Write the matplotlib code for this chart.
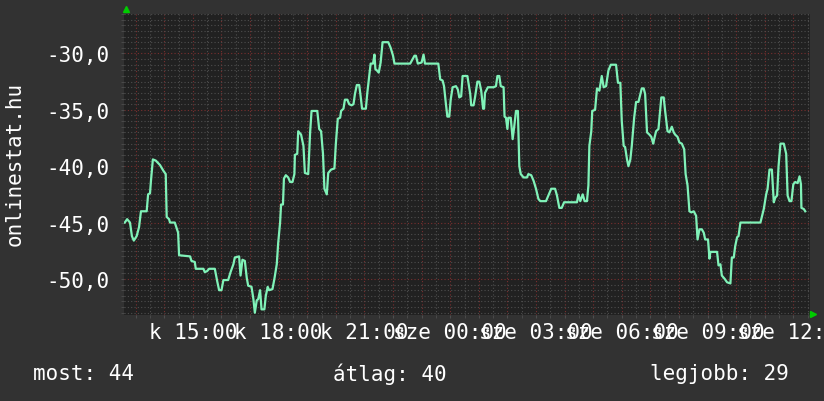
import matplotlib
matplotlib.use("Agg")
import matplotlib.pyplot as plt
from matplotlib.ticker import MultipleLocator, FuncFormatter

# ---- data (minutes after 12:00 on day 1, value) ----
minutes = [37, 42, 48, 52, 56, 62, 67, 71, 83, 86, 90, 92, 96, 102, 111, 118, 123, 125, 130, 132,
           142, 149, 151, 174, 177, 184, 186, 202, 205, 210, 214, 226, 231, 235, 240, 244, 254, 259,
           265, 268, 277, 280, 284, 289, 293, 296, 303, 307, 310, 314, 317, 321, 324, 330, 333, 337,
           340, 347, 351, 356, 359, 363, 365, 369, 371, 375, 380, 384, 389, 393, 394, 399, 401, 407,
           412, 415, 422, 426, 429, 441, 445, 449, 453, 456, 461, 464, 470, 477, 480, 484, 489, 491,
           496, 499, 504, 508, 513, 517, 520, 524, 529, 532, 535, 543, 546, 550, 553, 558, 561, 563,
           566, 570, 574, 578, 590, 595, 600, 603, 636, 641, 645, 648, 652, 660, 664, 667, 695, 699,
           704, 707, 711, 714, 718, 721, 725, 732, 736, 739, 743, 746, 756, 762, 764, 769, 772, 777,
           781, 785, 789, 791, 793, 799, 811, 816, 819, 823, 826, 832, 834, 837, 840, 842, 847, 851,
           854, 858, 862, 865, 868, 874, 881, 884, 890, 895, 900, 905, 909, 921, 926, 932, 940, 944,
           949, 954, 959, 986, 989, 993, 998, 1002, 1007, 1010, 1012, 1016, 1018, 1024, 1028, 1033,
           1038, 1042, 1047, 1052, 1057, 1068, 1072, 1077, 1080, 1084, 1087, 1091, 1094, 1098, 1101,
           1106, 1110, 1115, 1119, 1122, 1126, 1129, 1133, 1138, 1142, 1146, 1148, 1152, 1157, 1161,
           1163, 1168, 1171, 1176, 1180, 1185, 1189, 1192, 1197, 1201, 1206, 1211, 1214, 1218, 1222,
           1226, 1231, 1236, 1239, 1243, 1248, 1252, 1255, 1261, 1264, 1266, 1280, 1283, 1287, 1290,
           1296, 1301, 1308, 1311, 1315, 1318, 1322, 1325, 1329, 1371, 1374, 1378, 1383, 1386, 1390,
           1395, 1399, 1402, 1406, 1409, 1413, 1420, 1425, 1428, 1432, 1436, 1440, 1444, 1449, 1453,
           1456, 1457, 1462, 1465]

values = [-45.0, -44.7, -45.0, -46.2, -46.6, -46.2, -45.4, -44.0, -44.0, -42.5, -42.4, -41.3, -39.4,
          -39.5, -39.9, -40.4, -40.7, -44.5, -44.7, -45.0, -45.0, -45.9, -47.9, -48.0, -48.4, -48.5,
          -49.1, -49.1, -49.4, -49.3, -49.1, -49.1, -50.2, -51.0, -51.0, -50.1, -50.1, -49.4, -48.7,
          -48.1, -48.0, -49.7, -48.3, -48.4, -49.9, -50.6, -50.7, -51.8, -53.0, -51.9, -51.8, -51.0,
          -52.7, -52.7, -51.5, -50.7, -51.0, -50.9, -50.0, -48.7, -46.8, -45.0, -43.4, -43.4, -41.1,
          -40.8, -41.0, -41.4, -41.4, -40.7, -39.0, -38.9, -36.9, -37.2, -38.2, -40.6, -40.7, -37.0,
          -35.1, -35.1, -36.7, -36.9, -38.9, -42.0, -42.5, -40.6, -40.3, -40.2, -38.0, -35.8, -35.7,
          -35.1, -34.9, -34.1, -34.1, -34.5, -34.6, -34.5, -33.6, -32.8, -32.8, -33.8, -34.9, -34.9,
          -33.5, -32.0, -30.9, -30.9, -30.1, -31.4, -31.5, -31.7, -30.8, -29.0, -29.0, -29.5, -30.2,
          -30.9, -30.9, -30.5, -30.2, -30.2, -30.9, -30.8, -30.1, -30.9, -30.9, -32.3, -32.4, -32.9,
          -34.5, -35.6, -35.6, -34.1, -33.0, -32.9, -33.2, -33.9, -33.8, -32.0, -32.0, -33.6, -34.6,
          -34.6, -33.9, -32.5, -32.5, -33.3, -34.9, -34.9, -33.5, -33.0, -33.0, -32.9, -32.0, -32.0,
          -32.9, -33.0, -35.6, -35.7, -36.7, -35.7, -35.7, -37.6, -36.6, -35.1, -35.1, -40.0, -40.7,
          -41.0, -41.0, -40.7, -40.8, -41.3, -42.0, -42.9, -43.1, -43.1, -42.6, -42.0, -42.0, -42.6,
          -43.7, -43.7, -43.2, -43.2, -42.5, -43.1, -42.5, -43.1, -43.1, -41.7, -38.2, -36.9, -35.1,
          -35.0, -33.1, -33.3, -32.0, -33.0, -32.9, -31.5, -31.0, -31.0, -32.6, -32.6, -36.0, -38.2,
          -38.3, -39.4, -40.0, -39.4, -38.2, -35.7, -34.3, -34.3, -33.6, -33.1, -33.1, -33.6, -37.0,
          -37.2, -37.4, -38.0, -37.6, -36.9, -36.7, -34.8, -33.9, -33.9, -35.1, -36.9, -37.0, -36.5,
          -37.0, -37.2, -37.4, -37.9, -38.0, -38.5, -40.7, -41.7, -44.0, -44.1, -44.0, -44.4, -46.5,
          -45.6, -45.6, -45.9, -46.5, -46.5, -48.2, -47.6, -47.6, -48.8, -48.7, -49.7, -50.0, -50.3,
          -50.4, -48.1, -48.1, -47.1, -46.3, -46.2, -45.0, -45.0, -44.5, -43.8, -42.5, -42.0, -40.3,
          -40.3, -43.2, -42.8, -42.6, -40.0, -38.0, -38.0, -38.9, -42.6, -43.1, -43.1, -41.6, -41.4,
          -41.5, -40.9, -41.6, -43.7, -43.8, -44.0]

label_minutes = [180, 360, 540, 720, 900, 1080, 1260, 1440]
label_texts = ["k 15:00", "k 18:00", "k 21:00", "sze 00:00", "sze 03:00",
               "sze 06:00", "sze 09:00", "sze 12:00"]

stat_now = 44
stat_avg = 40
stat_best = 29

y_label = "onlinestat.hu"

# ---- style ----
W, H = 824, 402
OUTER = '#323232'
PLOT_BG = '#212121'
MINOR = '#4e4e4e'
MAJOR = '#7a2f2f'
LINE = '#80f2b8'
TXT = '#ffffff'
FONT = 'DejaVu Sans Mono'
FS = 15

plt.rcParams['font.family'] = [FONT]

fig = plt.figure(figsize=(W / 100, H / 100), dpi=100, facecolor=OUTER)
left, right, top, bottom = 123.8, 810.0, 15.0, 316.0
ax = fig.add_axes([left / W, 1 - bottom / H, (right - left) / W, (bottom - top) / H])
ax.set_facecolor(PLOT_BG)

ax.plot(minutes, values, color=LINE, lw=1.6, zorder=3)

ax.set_xlim(35, 1475)
ax.set_ylim(-53.2, -26.5)

ax.xaxis.set_major_locator(MultipleLocator(60))
ax.xaxis.set_minor_locator(MultipleLocator(30))
ax.yaxis.set_major_locator(MultipleLocator(5))
ax.yaxis.set_minor_locator(MultipleLocator(0.5))

lab_map = dict(zip(label_minutes, label_texts))
ax.xaxis.set_major_formatter(FuncFormatter(lambda v, p: lab_map.get(int(round(v)), '') if abs(v - round(v)) < 1e-6 else ''))
ax.yaxis.set_major_formatter(FuncFormatter(lambda v, p: f"{v:.1f}".replace('.', ',')))

ax.grid(which='minor', color=MINOR, linestyle=(0, (1, 2)), linewidth=0.8)
ax.grid(which='major', color=MAJOR, linestyle=(0, (1, 2)), linewidth=0.8)
ax.set_axisbelow(True)

for s in ax.spines.values():
    s.set_visible(False)

ax.tick_params(axis='both', which='both', length=2, color=MINOR, labelcolor=TXT, labelsize=FS)
ax.tick_params(axis='x', which='major', pad=3)
ax.tick_params(axis='y', which='major', pad=8)

# axis arrows
ax.plot([0.003], [1.016], marker='^', color='#00cc00', markersize=5, transform=ax.transAxes, clip_on=False)
ax.plot([1.005], [0.002], marker='>', color='#00cc00', markersize=5, transform=ax.transAxes, clip_on=False)

fig.text(15 / W, 1 - 164 / H, y_label, rotation=90, ha='center', va='center', color=TXT, fontsize=FS)

fig.text(33 / W, 1 - 374 / H, f"most: {stat_now}", ha='left', va='center', color=TXT, fontsize=FS)
fig.text(333 / W, 1 - 374 / H, f"átlag: {stat_avg}", ha='left', va='center', color=TXT, fontsize=FS)
fig.text(650 / W, 1 - 374 / H, f"legjobb: {stat_best}", ha='left', va='center', color=TXT, fontsize=FS)

fig.savefig('out.png', dpi=100, facecolor=OUTER)
